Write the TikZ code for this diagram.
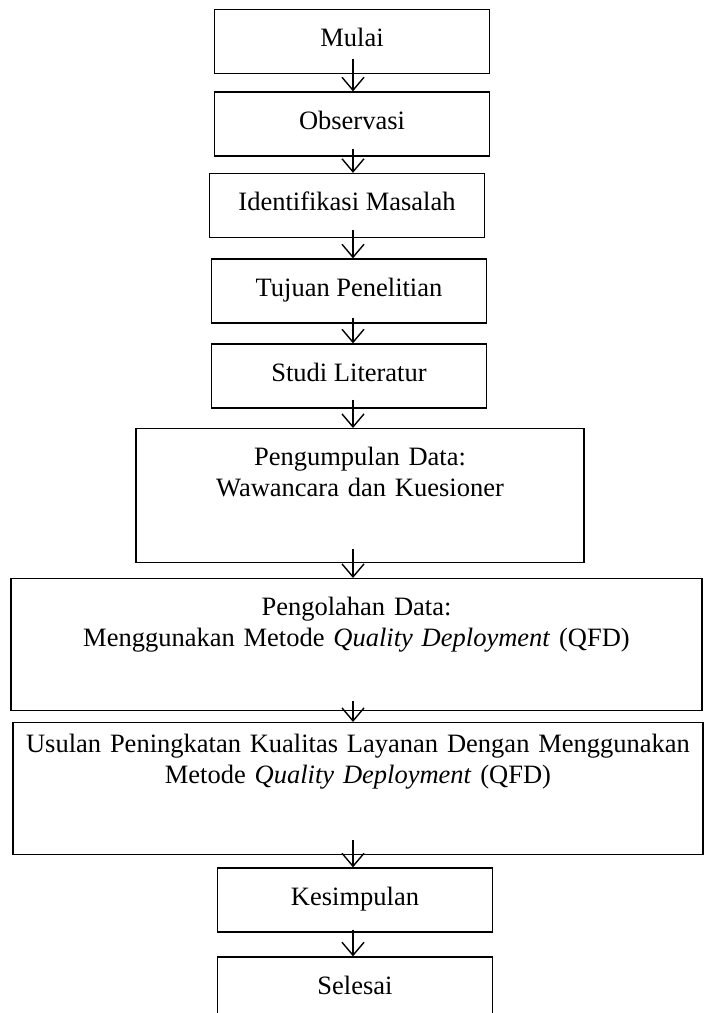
\documentclass[tikz,border=0pt]{standalone}
\usepackage{fontspec}
\setmainfont{Liberation Serif}
\usetikzlibrary{arrows.meta}
\tikzset{
  stepbox/.style={draw, line width=1.3pt, inner sep=0pt, minimum width=275pt,
    minimum height=64pt, text height=18pt, text depth=8pt},
  bigbox/.style={draw, line width=1.3pt, inner sep=0pt, align=center, anchor=north},
  flow/.style={line width=1.4pt,
    -{Straight Barb[length=13pt,width=22pt,line width=1.4pt]}}
}

\begin{document}
\begin{tikzpicture}[x=1pt, y=-1pt, font=\fontsize{26.5}{31}\selectfont]
	\useasboundingbox (0,0) rectangle (704,1013);
	\coordinate (spine) at (353,0);
	% small steps
	\node[stepbox] (mulai) at (352,41.5) {Mulai};
	\node[stepbox] (obs) at (352,124) {Observasi};
	\node[stepbox] (ident) at (347,205.5) {Identifikasi Masalah};
	\node[stepbox] (tujuan) at (349,291) {Tujuan Penelitian};
	\node[stepbox] (studi) at (349,376) {Studi Literatur};
	% wide steps, text at the top
	\node[bigbox, text width=448pt, text height=37pt, text depth=97pt] (kumpul) at (360,428)
	    {Pengumpulan Data:\\Wawancara dan Kuesioner};
	\node[bigbox, text width=691pt, text height=37pt, text depth=95pt] (olah) at (356.5,578)
	    {Pengolahan Data:\\Menggunakan Metode \textit{Quality Deployment} (QFD)};
	\node[bigbox, text width=690pt, text height=30pt, text depth=102pt] (usulan) at (358,722)
	    {Usulan Peningkatan Kualitas Layanan Dengan Menggunakan\\Metode \textit{Quality Deployment} (QFD)};
	\node[stepbox] (simpul) at (355,900) {Kesimpulan};
	\node[stepbox] (selesai) at (355,989) {Selesai};
	% arrows
	\draw[flow] (mulai.south -| spine) ++(0,-15) -- (obs.north -| spine);
	\draw[flow] (obs.south -| spine) ++(0,-8) -- (ident.north -| spine);
	\draw[flow] (ident.south -| spine) ++(0,-8) -- (tujuan.north -| spine);
	\draw[flow] (tujuan.south -| spine) ++(0,-6) -- (studi.north -| spine);
	\draw[flow] (studi.south -| spine) ++(0,-9) -- (kumpul.north -| spine);
	\draw[flow] (kumpul.south -| spine) ++(0,-14) -- (olah.north -| spine);
	\draw[flow] (olah.south -| spine) ++(0,-10) -- (usulan.north -| spine);
	\draw[flow] (usulan.south -| spine) ++(0,-15) -- (simpul.north -| spine);
	\draw[flow] (simpul.south -| spine) ++(0,-3) -- (selesai.north -| spine);
\end{tikzpicture}
\end{document}
